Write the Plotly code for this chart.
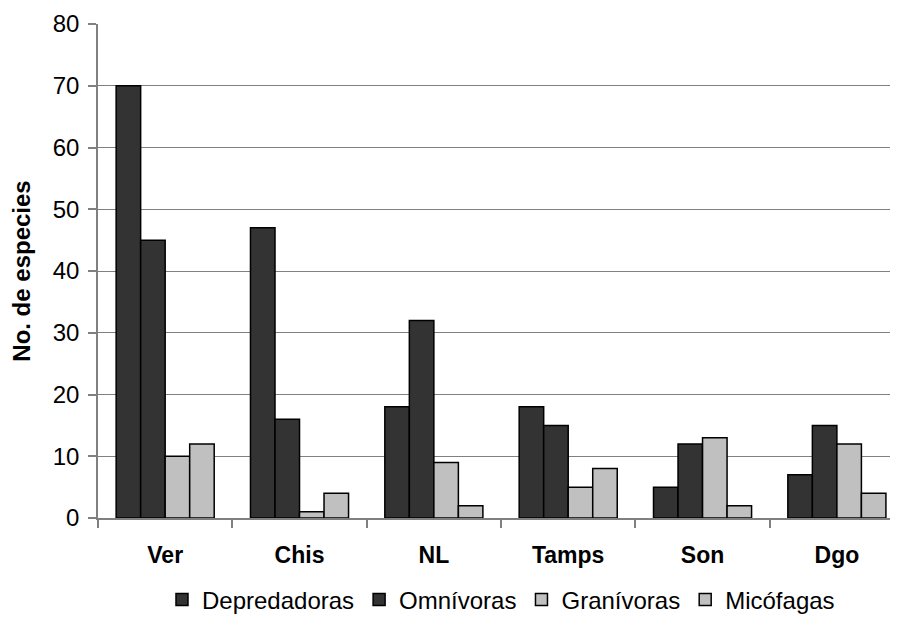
import plotly.graph_objects as go

categories = ["Ver", "Chis", "NL", "Tamps", "Son", "Dgo"]
depredadoras = [70, 47, 18, 18, 5, 7]
omnivoras = [45, 16, 32, 15, 12, 15]
granivoras = [10, 1, 9, 5, 13, 12]
micofagas = [12, 4, 2, 8, 2, 4]

series = [
    ("Depredadoras", depredadoras, "#333333"),
    ("Omnívoras", omnivoras, "#333333"),
    ("Granívoras", granivoras, "#c0c0c0"),
    ("Micófagas", micofagas, "#c0c0c0"),
]

fig = go.Figure()
for name, vals, color in series:
    fig.add_trace(go.Bar(
        x=categories, y=vals, name=name,
        marker=dict(color=color, line=dict(color="#000000", width=1.5)),
    ))

fig.update_layout(
    width=898, height=636,
    paper_bgcolor="white", plot_bgcolor="white",
    margin=dict(l=90, r=10, t=16, b=126, autoexpand=False),
    barmode="group", bargap=0.27, bargroupgap=0,
    font=dict(family="Liberation Sans, Arial, sans-serif", color="#000000"),
    showlegend=True,
    legend=dict(orientation="h", x=0.505, xanchor="center", y=-0.166, yanchor="middle",
                font=dict(size=24), traceorder="normal", itemwidth=30,
                tracegroupgap=0),
    xaxis=dict(
        type="category", range=[-0.5, 5.44], automargin=False,
        showline=True, linecolor="#808080", linewidth=1.5,
        ticks="outside", tickson="boundaries", ticklen=8, tickcolor="#808080", tickwidth=1.5,
        tickfont=dict(size=23, family="Liberation Sans, Arial, sans-serif", weight="bold"),
        ticklabelstandoff=16,
        showgrid=False, zeroline=False,
    ),
    yaxis=dict(
        range=[0, 80], dtick=10, automargin=False,
        showline=True, linecolor="#808080", linewidth=1.5,
        ticks="outside", ticklen=8, tickcolor="#808080", tickwidth=1.5,
        tickfont=dict(size=24),
        ticklabelstandoff=4,
        showgrid=True, gridcolor="#808080", gridwidth=1.2,
        zeroline=False,
        title=dict(text="<b>No. de especies</b>", font=dict(size=24), standoff=16),
    ),
)

fig.write_html("out.html")
